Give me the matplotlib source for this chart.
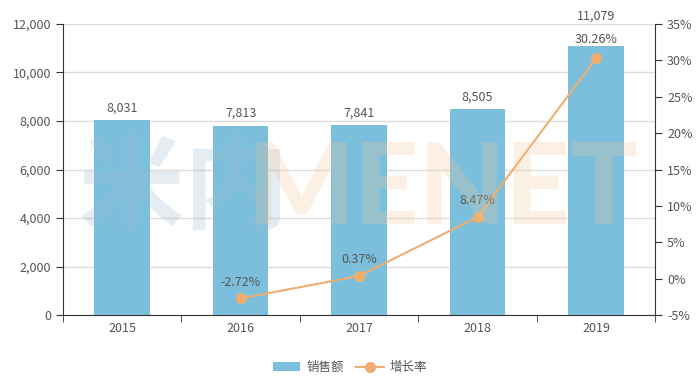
import matplotlib
matplotlib.use("Agg")
import matplotlib.pyplot as plt
from matplotlib.lines import Line2D
from matplotlib.patches import Patch
from matplotlib.ticker import FuncFormatter, MultipleLocator

plt.rcParams['font.family'] = ['Noto Sans CJK SC', 'DejaVu Sans']

years = ["2015", "2016", "2017", "2018", "2019"]
sales = [8031, 7813, 7841, 8505, 11079]
growth_years = ["2016", "2017", "2018", "2019"]
growth = [-2.72, 0.37, 8.47, 30.26]

bar_color = "#7bbfdc"
line_color = "#f0ad6e"
text_color = "#555555"

fig = plt.figure(figsize=(7, 3.87), dpi=100)
ax = fig.add_axes([0.09, 0.186, 0.846, 0.752])
ax2 = ax.twinx()

x = list(range(len(years)))
ax.bar(x, sales, width=0.47, color=bar_color, zorder=2)
for i, (xi, v) in enumerate(zip(x, sales)):
    extra = 13 if i == len(sales) - 1 else 0
    ax.annotate(f"{v:,}", (xi, v), xytext=(0, 4 + extra), textcoords="offset points",
                ha="center", va="bottom", fontsize=9, color=text_color)

ax.set_xlim(-0.5, 4.5)
ax.set_ylim(0, 12000)
ax.yaxis.set_major_locator(MultipleLocator(2000))
ax.yaxis.set_major_formatter(FuncFormatter(lambda v, p: f"{int(v):,}"))
ax.set_xticks(x)
ax.set_xticklabels(years)
ax.set_xticks([i - 0.5 for i in range(len(years) + 1)], minor=True)
ax.tick_params(axis="x", which="major", length=0, labelsize=9, labelcolor=text_color, pad=5)
ax.tick_params(axis="x", which="minor", length=5, color="#333333")
ax.tick_params(axis="y", labelsize=9, labelcolor=text_color, length=5, color="#333333")
ax.grid(axis="y", color="#dddddd", linewidth=1, zorder=0)
ax.set_axisbelow(True)
for s in ["top", "right"]:
    ax.spines[s].set_visible(False)
ax.spines["left"].set_color("#333333")
ax.spines["bottom"].set_color("#333333")

gx = [years.index(y) for y in growth_years]
ax2.plot(gx, growth, color=line_color, linewidth=1.5, marker="o", markersize=7, zorder=5)
for i, (xi, v) in enumerate(zip(gx, growth)):
    off = 9 if i == len(growth) - 1 else 7
    ax2.annotate(f"{v:.2f}%", (xi, v), xytext=(0, off), textcoords="offset points",
                 ha="center", va="bottom", fontsize=9, color=text_color, zorder=6)
ax2.set_ylim(-5, 35)
ax2.yaxis.set_major_locator(MultipleLocator(5))
ax2.yaxis.set_major_formatter(FuncFormatter(lambda v, p: f"{int(v)}%"))
ax2.tick_params(axis="y", labelsize=9, labelcolor=text_color, length=5, color="#333333")
for s in ["top", "left", "bottom"]:
    ax2.spines[s].set_visible(False)
ax2.spines["right"].set_color("#333333")

# watermark
fig.text(0.112, 0.51, "米内", fontsize=76, fontweight="bold", color="#9cb8cc", alpha=0.25,
         ha="left", va="center", zorder=10)
fig.text(0.354, 0.505, "MENET", fontsize=81, fontweight="black", family=["Lato", "DejaVu Sans"],
         color="#f5c79a", alpha=0.25, ha="left", va="center", zorder=10)

handles = [Patch(facecolor=bar_color, edgecolor="none"),
           Line2D([0], [0], color=line_color, marker="o", markersize=7, linewidth=1.5)]
fig.legend(handles, ["销售额", "增长率"], loc="center", bbox_to_anchor=(0.5, 0.05), ncol=2,
           frameon=False, fontsize=9, labelcolor=text_color, handlelength=2.2, columnspacing=1.0,
           handletextpad=0.5)

fig.savefig("out.png", dpi=100)
